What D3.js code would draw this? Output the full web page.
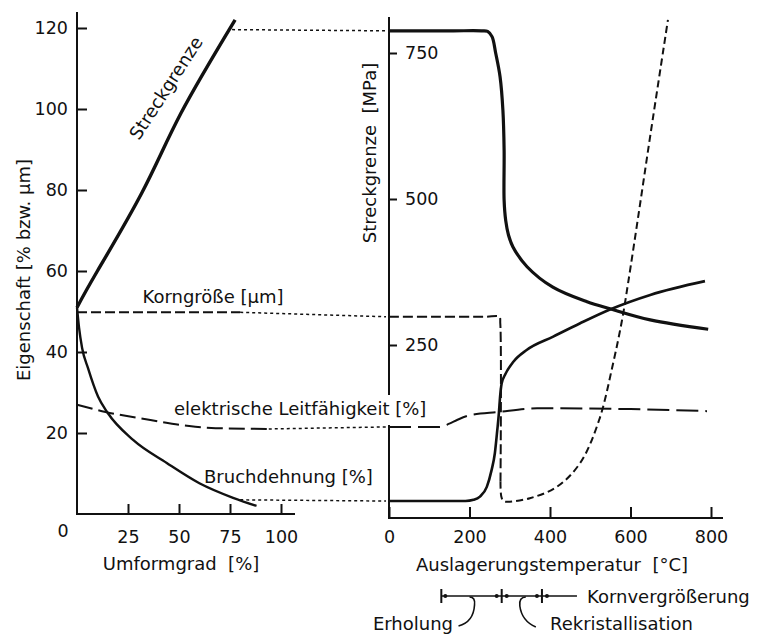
<!DOCTYPE html>
<html>
<head>
<meta charset="utf-8">
<script src="https://cdn.jsdelivr.net/npm/d3@7"></script>
<style>
  html, body { margin: 0; padding: 0; background: #fff; }
  svg { display: block; font-family: "DejaVu Sans", sans-serif; }
  .tick text { font-family: "DejaVu Sans", sans-serif; font-size: 17.5px; fill: #111; }
  .tick line { stroke: #111; stroke-width: 2; }
  text { fill: #111; }
</style>
</head>
<body>
<svg id="chart" width="760" height="640"></svg>
<script>
// ---- Left panel: properties vs. degree of cold work (Umformgrad, %) ----
const leftStreckgrenze   = [[0, 51], [10, 60], [32, 79.5], [51, 99], [77.5, 122]];
const leftBruchdehnung   = [[0, 51], [1, 46], [2.5, 41], [5.4, 36], [10.3, 29], [15, 25], [27.5, 18.3], [44, 12.6], [60, 7.6], [76.5, 4], [88, 2]];
const leftKorngroesse    = [[0, 49.8], [80, 49.8]];
const leftLeitfaehigkeit = [[0, 27], [14, 25.2], [36, 23.2], [55, 21.7], [68, 21.2], [94, 21]];

// ---- Right panel: properties vs. annealing temperature (°C) ----
// yield strength in MPa (right axis)
const rightStreckgrenze = [[0, 788], [80, 788], [160, 788], [230, 788], [245, 787], [256, 778], [265, 750], [276, 709], [283, 652], [286, 584], [286, 498],
                           [290, 463], [297, 438], [308, 418], [343, 384], [407, 349], [492, 324], [549, 312], [649, 293], [793, 277]];
// remaining series on the property scale (left axis)
const rightBruchdehnung = [[0, 3.2], [100, 3.2], [190, 3.2], [210, 3.5], [226, 4.3], [243, 6.7], [255, 10.9], [263, 15], [269, 20.7], [273, 24.9],
                           [276, 29], [280, 32.3], [288, 34.3], [309, 37.6], [342, 40.5], [408, 43.8], [475, 47.1], [549, 50.5], [649, 54.1], [785, 57.5]];
const rightKorngroesse  = [[0, 48.7], [120, 48.7], [240, 48.7], [274, 48.7], [276.5, 47], [277, 8], [279, 4.3], [284, 3.2], [293, 3.0], [350, 3.9], [417, 6.7],
                           [475, 12.6], [522, 23.2], [557, 37.3], [579, 47.9], [594, 57], [620, 74], [650, 94], [693, 122]];
const rightLeitfaehigkeit = [[0, 21.5], [125, 21.5], [150, 22.3], [169, 23.2], [201, 24.4], [271, 25.2], [368, 26.1], [600, 25.9], [790, 25.4]];

// dotted links from the end of each left curve to the start of the right one: [Umformgrad, Eigenschaft]
const linkStarts = {
  streck: [76, 119.6],
  korn:   [80, 49.8],
  leit:   [94, 21],
  bruch:  [80, 3.5]
};

// tick labels
const leftYTicks  = [20, 40, 60, 80, 100, 120];
const leftXTicks  = [25, 50, 75, 100];
const rightYTicks = [250, 500, 750];
const rightXTicks = [0, 200, 400, 600, 800];

// temperature ranges of the annealing stages
const stageBounds = [130, 280, 380];
const stageLineEnd = 467;
const stageHooks = [210, 330];

const svg = d3.select("#chart");
const ink = "#111";

// scales
const xL = d3.scaleLinear().domain([0, 100]).range([77, 281]);
const yL = d3.scaleLinear().domain([0, 120]).range([514, 28]);
const xR = d3.scaleLinear().domain([0, 800]).range([389, 711]);
const yR = d3.scaleLinear().domain([0, 750]).range([491, 53]);

// ---- axes frame ----
const frame = svg.append("g").attr("stroke", ink).attr("stroke-width", 2).attr("fill", "none");
frame.append("line").attr("x1", 77).attr("y1", 12).attr("x2", 77).attr("y2", 515);
frame.append("line").attr("x1", 76).attr("y1", 514).attr("x2", 295).attr("y2", 514);
frame.append("line").attr("x1", 389).attr("y1", 17).attr("x2", 389).attr("y2", 395);
frame.append("line").attr("x1", 389).attr("y1", 425).attr("x2", 389).attr("y2", 519);
frame.append("line").attr("x1", 388).attr("y1", 518).attr("x2", 723).attr("y2", 518);

// ---- ticks ----
svg.append("g").attr("transform", "translate(77,0)")
  .call(d3.axisLeft(yL).tickValues(leftYTicks).tickSize(-10).tickPadding(9))
  .call(g => g.select(".domain").remove());
svg.append("g").attr("transform", "translate(0,514)")
  .call(d3.axisBottom(xL).tickValues(leftXTicks).tickSize(-10).tickPadding(17))
  .call(g => g.select(".domain").remove());
svg.append("g").attr("transform", "translate(389,0)")
  .call(d3.axisRight(yR).tickValues(rightYTicks).tickSize(8).tickPadding(8))
  .call(g => g.select(".domain").remove());
svg.append("g").attr("transform", "translate(0,518)")
  .call(d3.axisBottom(xR).tickValues(rightXTicks).tickSize(-11).tickPadding(13))
  .call(g => g.select(".domain").remove());
svg.selectAll(".tick text").attr("fill", ink);
svg.selectAll(".tick line").attr("stroke", ink);

// origin label of the left panel
svg.append("text").attr("x", 63).attr("y", 537).attr("text-anchor", "middle")
  .attr("font-size", 17.5).text("0");

// ---- curves ----
const naturalL = d3.line().x(d => xL(d[0])).y(d => yL(d[1])).curve(d3.curveNatural);
const smoothL = d3.line().x(d => xL(d[0])).y(d => yL(d[1])).curve(d3.curveMonotoneX);
const smoothR = d3.line().x(d => xR(d[0])).y(d => yL(d[1])).curve(d3.curveMonotoneX);
const lineR = d3.line().x(d => xR(d[0])).y(d => yL(d[1])).curve(d3.curveCatmullRom.alpha(0.5));
const lineRM = d3.line().x(d => xR(d[0])).y(d => yR(d[1])).curve(d3.curveCatmullRom.alpha(0.5));

function draw(gen, data, width, dash) {
  svg.append("path").datum(data).attr("d", gen)
    .attr("fill", "none").attr("stroke", ink).attr("stroke-width", width)
    .attr("stroke-linecap", "butt").attr("stroke-linejoin", "round")
    .attr("stroke-dasharray", dash || null);
}

// dotted links between the panels
function link(start, x1, y1) {
  svg.append("line")
    .attr("x1", xL(start[0])).attr("y1", yL(start[1]))
    .attr("x2", x1).attr("y2", y1)
    .attr("stroke", ink).attr("stroke-width", 1.5).attr("stroke-dasharray", "3,3");
}
link(linkStarts.streck, xR(0) - 3, yR(rightStreckgrenze[0][1]));
link(linkStarts.korn,   xR(0) - 3, yL(rightKorngroesse[0][1]));
link(linkStarts.leit,   xR(0) - 3, yL(rightLeitfaehigkeit[0][1]));
link(linkStarts.bruch,  xR(0) - 3, yL(rightBruchdehnung[0][1]));

draw(naturalL, leftStreckgrenze, 3.4);
draw(smoothL, leftBruchdehnung, 2.4);
draw(smoothL, leftKorngroesse, 2, "10,4");
draw(smoothL, leftLeitfaehigkeit, 2, "16,6");

draw(lineRM, rightStreckgrenze, 3.2);
draw(smoothR, rightBruchdehnung, 2.6);
draw(lineR, rightKorngroesse.slice(0, 6), 2, "10,4");
draw(lineR, rightKorngroesse.slice(5), 2, "7,4");
draw(smoothR, rightLeitfaehigkeit, 2, "22,7");

// ---- curve labels ----
const fs = 18;
svg.append("text").attr("transform", "translate(166,88) rotate(-57)")
  .attr("text-anchor", "middle").attr("dy", "0.35em").attr("font-size", fs).text("Streckgrenze");
svg.append("text").attr("x", 213).attr("y", 303).attr("text-anchor", "middle")
  .attr("font-size", fs).text("Korngröße [µm]");
svg.append("text").attr("x", 174).attr("y", 415).attr("font-size", fs)
  .text("elektrische Leitfähigkeit [%]");
svg.append("text").attr("x", 204).attr("y", 483).attr("font-size", fs)
  .text("Bruchdehnung [%]");

// ---- axis titles ----
svg.append("text").attr("x", 181).attr("y", 570).attr("text-anchor", "middle")
  .attr("font-size", fs).style("white-space", "pre").text("Umformgrad  [%]");
svg.append("text").attr("x", 552).attr("y", 571).attr("text-anchor", "middle")
  .attr("font-size", fs).style("white-space", "pre").text("Auslagerungstemperatur  [°C]");
svg.append("text").attr("transform", "translate(30,270) rotate(-90)")
  .attr("text-anchor", "middle").attr("font-size", fs).text("Eigenschaft [% bzw. µm]");
svg.append("text").attr("transform", "translate(376,153) rotate(-90)")
  .attr("text-anchor", "middle").attr("font-size", fs).style("white-space", "pre").text("Streckgrenze  [MPa]");

// ---- annealing stages below the temperature axis ----
const sy = 596;
const st = svg.append("g").attr("stroke", ink).attr("fill", "none").attr("stroke-width", 1.6);
st.append("line").attr("x1", xR(stageBounds[0])).attr("y1", sy).attr("x2", xR(stageLineEnd)).attr("y2", sy);
stageBounds.forEach((t, i) => {
  const x = xR(t);
  st.append("line").attr("x1", x).attr("y1", sy - 7).attr("x2", x).attr("y2", sy + 7).attr("stroke-width", 2);
  const dots = i === 0 ? [4] : [-5, 5];
  dots.forEach(o => svg.append("circle").attr("cx", x + o).attr("cy", sy).attr("r", 2).attr("fill", ink));
});
// bracket hooks pointing to the stage names
{
  const x = xR(stageHooks[0]);
  st.append("path").attr("d", `M${x - 4},${sy + 1} Q${x + 2},${sy + 1} ${x + 1},${sy + 9} Q${x},${sy + 26} ${x - 15},${sy + 30}`);
}
{
  const x = xR(stageHooks[1]);
  st.append("path").attr("d", `M${x + 4},${sy + 1} Q${x - 3},${sy + 1} ${x - 2},${sy + 10} Q${x},${sy + 25} ${x + 14},${sy + 31}`);
}
svg.append("text").attr("x", 587).attr("y", 603).attr("font-size", fs).text("Kornvergrößerung");
svg.append("text").attr("x", 453).attr("y", 630).attr("text-anchor", "end").attr("font-size", fs).text("Erholung");
svg.append("text").attr("x", 550).attr("y", 630).attr("font-size", fs).text("Rekristallisation");
</script>
</body>
</html>
